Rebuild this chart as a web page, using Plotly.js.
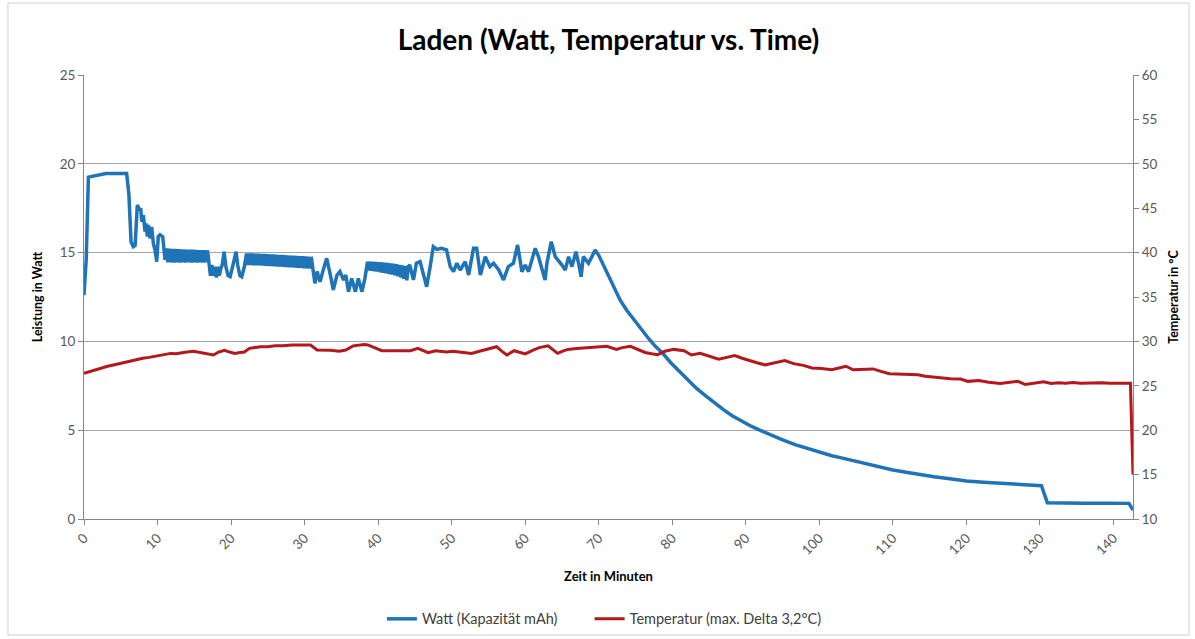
<!DOCTYPE html>
<html>
<head>
<meta charset="utf-8">
<script src="https://cdn.plot.ly/plotly-3.0.1.min.js"></script>
<style>
  html, body { margin: 0; padding: 0; background: #ffffff; }
  #chart { width: 1195px; height: 639px; }
</style>
</head>
<body>
<div id="chart"></div>
<script>
// ---- Data ----
const chartTitle = "Laden (Watt, Temperatur vs. Time)";
const xTitle = "Zeit in Minuten";
const yLeftTitle = "Leistung in Watt";
const yRightTitle = "Temperatur in °C";
const seriesNames = ["Watt (Kapazität mAh)", "Temperatur (max. Delta 3,2°C)"];
const xTickValues = [0, 10, 20, 30, 40, 50, 60, 70, 80, 90, 100, 110, 120, 130, 140];

// Watt series: time (minutes)
const wattTime = [
  0, 0.3, 0.6, 1.3, 2.0, 3.0, 4.5, 5.8, 6.1, 6.4, 6.7, 6.95, 7.25, 7.53, 7.71, 7.85, 8.07, 8.3, 8.44, 8.62,
  8.75, 8.98, 9.2, 9.43, 9.66, 9.89, 10.1, 10.34, 10.7, 11.02, 11.25,
  11.4, 11.6, 11.8, 12.0, 12.2, 12.4, 12.6, 12.8, 13.0, 13.2, 13.4, 13.6, 13.8, 14.0,
  14.2, 14.4, 14.6, 14.8, 15.0, 15.2, 15.4, 15.6, 15.8, 16.0, 16.2, 16.4, 16.6, 16.8,
  17.0, 17.2, 17.4, 17.6, 17.8, 18.0, 18.2, 18.4, 18.6, 18.8, 19.05, 19.3, 19.6, 19.87, 20.2, 20.5, 20.68,
  20.9, 21.2, 21.45, 21.8, 22.1,
  22.3, 22.5, 22.7, 22.9, 23.1, 23.3, 23.5, 23.7, 23.9, 24.1, 24.3, 24.5, 24.7, 24.9, 25.1, 25.3, 25.5,
  25.7, 25.9, 26.1, 26.3, 26.5, 26.7, 26.9, 27.1, 27.3, 27.5, 27.7, 27.9, 28.1, 28.3, 28.5, 28.7, 28.9,
  29.1, 29.3, 29.5, 29.7, 29.9, 30.1, 30.3, 30.5, 30.7, 30.9,
  31.2, 31.4, 31.7, 32.1, 32.4, 33.0, 33.5, 33.9, 34.4, 34.8, 35.3, 35.6, 35.97, 36.4, 36.9, 37.3, 37.8,
  38.2, 38.55,
  38.7, 38.9, 39.1, 39.3, 39.5, 39.7, 39.9, 40.1, 40.3, 40.5, 40.7, 40.9, 41.1, 41.3, 41.5, 41.7, 41.9,
  42.1, 42.3, 42.5, 42.7, 42.9, 43.1, 43.3, 43.5, 43.7, 43.9, 44.1,
  44.3, 44.8, 45.2, 45.7, 46.1, 46.6, 47.07, 47.5, 47.98, 48.6, 49.3, 49.8, 50.25, 50.7, 51.16, 51.84,
  52.3, 52.97, 53.4, 53.9, 54.56, 55.2, 55.7, 56.4, 57.05, 57.7, 58.4, 58.96, 59.55, 60.0, 60.45, 61.36,
  61.8, 62.7, 62.95, 63.54, 64.08, 64.5, 65.0, 65.44, 65.9, 66.35, 66.9, 67.26, 67.6, 67.9, 68.6, 69.07,
  69.5, 70.0, 71.0, 72.0, 72.9, 73.8, 74.8, 75.8, 76.8, 77.7, 78.7, 79.8, 81.0, 82.1, 83.3, 84.5, 85.7,
  87.0, 88.2, 89.4, 90.6, 91.9, 93.5, 95.0, 96.8, 98.5, 100.0, 101.7, 103.0, 104.2, 105.5, 106.8, 108.3,
  109.2, 110.0, 112.0, 114.0, 115.6, 118.0, 120.0, 122.3, 124.6, 126.5, 128.5, 130.2, 131.0, 133.0,
  136.0, 139.0, 142.1, 142.65
];
// Watt series: power (W)
const wattValues = [
  12.6, 14.6, 19.25, 19.3, 19.4, 19.45, 19.45, 19.45, 18.3, 15.6, 15.33, 15.4, 17.68, 17.4, 17.5, 16.74, 17.1, 16.18, 16.64, 15.9,
  16.56, 15.8, 16.45, 15.52, 15.15, 14.49, 15.9, 16.0, 15.9, 14.6, 15.24,
  14.45, 15.22, 14.45, 15.2, 14.44, 15.2, 14.45, 15.19, 14.44, 15.18, 14.45, 15.18, 14.44, 15.17,
  14.45, 15.16, 14.44, 15.16, 14.45, 15.15, 14.44, 15.14, 14.45, 15.14, 14.44, 15.13, 14.45, 15.12,
  14.4, 13.7, 14.3, 13.7, 14.2, 13.6, 14.2, 13.7, 14.1, 14.3, 15.05, 14.2, 13.7, 13.64, 14.2, 14.9, 15.05,
  14.3, 13.7, 13.64, 14.2, 14.95,
  14.3, 14.95, 14.3, 14.95, 14.29, 14.94, 14.29, 14.93, 14.28, 14.92, 14.27, 14.92, 14.26, 14.91, 14.25, 14.9, 14.24,
  14.89, 14.23, 14.88, 14.22, 14.87, 14.21, 14.86, 14.2, 14.85, 14.19, 14.84, 14.18, 14.83, 14.17, 14.82, 14.16, 14.81,
  14.15, 14.8, 14.14, 14.79, 14.12, 14.78, 14.11, 14.77, 14.1, 14.76,
  14.02, 13.27, 13.93, 13.36, 13.83, 14.68, 13.74, 12.9, 13.74, 13.93, 13.46, 13.74, 12.8, 13.55, 12.8, 13.55, 12.8,
  13.55, 14.49,
  14.0, 14.49, 13.98, 14.48, 13.95, 14.47, 13.93, 14.46, 13.9, 14.44, 13.87, 14.43, 13.84, 14.41, 13.8, 14.39, 13.76,
  14.37, 13.72, 14.34, 13.67, 14.31, 13.6, 14.28, 13.52, 14.25, 13.44, 14.22,
  14.3, 13.46, 14.4, 14.49, 13.83, 13.08, 14.2, 15.33, 15.18, 15.24, 15.15, 14.21, 13.93, 14.4, 14.02, 14.49,
  13.74, 15.24, 15.24, 13.74, 14.77, 14.21, 14.4, 14.02, 13.46, 14.21, 14.4, 15.43, 13.93, 14.3, 13.93, 15.24,
  14.77, 13.46, 14.4, 15.62, 14.77, 14.58, 14.3, 14.02, 14.77, 14.21, 15.05, 14.4, 13.64, 14.77, 14.4, 14.77,
  15.15, 14.85, 13.95, 13.1, 12.33, 11.75, 11.2, 10.65, 10.15, 9.72, 9.33, 8.8, 8.3, 7.83, 7.35, 6.95, 6.55,
  6.14, 5.8, 5.5, 5.25, 5.0, 4.7, 4.45, 4.17, 3.95, 3.79, 3.56, 3.44, 3.32, 3.2, 3.1, 2.95,
  2.83, 2.76, 2.62, 2.48, 2.38, 2.25, 2.14, 2.07, 2.01, 1.96, 1.91, 1.87, 0.92, 0.9,
  0.89, 0.89, 0.88, 0.5
];

// Temperature series: time (minutes)
const tempTime = [
  0, 0.8, 1.56, 2.5, 3.2, 4.0, 4.8, 5.6, 6.43, 7.2, 8.0, 8.86, 9.8, 10.8, 11.8, 12.5, 13.2, 14.0, 14.9, 15.5,
  16.2, 16.9, 17.6, 18.3, 19.1, 19.8, 20.5, 21.2, 21.8, 22.5, 23.2, 24.0, 25.0, 26.0, 27.0, 28.3, 29.5, 30.8,
  31.7, 32.5, 33.5, 34.7, 35.6, 36.6, 37.4, 38.1, 38.6, 39.4, 40.5, 41.5, 42.5, 43.5, 44.4, 45.4, 46.1, 46.8,
  47.8, 48.5, 49.3, 50.2, 51.2, 52.0, 52.7, 53.4, 54.1, 55.1, 56.1, 56.8, 57.5, 58.5, 59.2, 60.0, 61.0, 61.9,
  63.1, 63.8, 64.4, 65.1, 65.8, 67.0, 68.3, 69.5, 71.1, 72.4, 73.2, 74.3, 75.3, 76.3, 77.2, 78.0, 79.0, 80.2,
  81.6, 82.6, 83.8, 85.0, 86.3, 87.4, 88.5, 89.5, 90.4, 91.5, 92.6, 94.0, 95.3, 96.5, 97.8, 99.0, 100.3, 101.7,
  103.6, 104.6, 106.0, 107.3, 108.5, 109.5, 111.5, 113.4, 114.4, 116.3, 117.8, 119.2, 120.2, 121.7, 123.0,
  124.6, 125.8, 127.0, 128.0, 129.2, 130.5, 131.5, 132.5, 133.5, 134.5, 135.5, 136.5, 137.5, 138.5, 139.5,
  140.5, 141.5, 142.3, 142.65
];
// Temperature series: °C
const tempValues = [
  26.4, 26.6, 26.86, 27.05, 27.2, 27.35, 27.5, 27.65, 27.84, 27.95, 28.1, 28.2, 28.35, 28.47, 28.65, 28.6, 28.73, 28.8, 28.9, 28.8,
  28.75, 28.6, 28.47, 28.8, 29.0, 28.8, 28.65, 28.75, 28.8, 29.22, 29.3, 29.4, 29.4, 29.5, 29.5, 29.6, 29.6, 29.6,
  29.03, 29.05, 29.0, 28.9, 29.03, 29.5, 29.6, 29.65, 29.6, 29.3, 28.95, 28.95, 28.95, 29.0, 28.95, 29.22, 29.0, 28.73,
  28.95, 28.85, 28.8, 28.9, 28.8, 28.75, 28.65, 28.8, 28.95, 29.2, 29.4, 28.9, 28.47, 28.95, 28.8, 28.6, 29.0, 29.3,
  29.5, 29.0, 28.65, 28.9, 29.1, 29.2, 29.3, 29.35, 29.45, 29.1, 29.3, 29.45, 29.1, 28.75, 28.6, 28.5, 28.9, 29.1,
  28.95, 28.47, 28.65, 28.3, 28.0, 28.2, 28.4, 28.1, 27.84, 27.6, 27.35, 27.6, 27.84, 27.5, 27.3, 27.0, 26.95, 26.8,
  27.2, 26.8, 26.85, 26.9, 26.6, 26.35, 26.3, 26.25, 26.07, 25.88, 25.8, 25.77, 25.5, 25.6, 25.4,
  25.25, 25.4, 25.5, 25.14, 25.3, 25.44, 25.25, 25.35, 25.3, 25.38, 25.3, 25.33, 25.3, 25.35, 25.3,
  25.33, 25.3, 25.3, 15.0
];

// ---- Drawing ----
const FONT = "Lato, 'Open Sans', 'Liberation Sans', sans-serif";
const AXIS_GRAY = "#868686";
const TICK_COLOR = "#595959";
const LEGEND_FONT = { family: FONT, size: 14.5, color: "#404040" };

const traces = [
  {
    x: wattTime, y: wattValues, name: seriesNames[0], type: "scatter", mode: "lines",
    line: { color: "#1f73b7", width: 3.5 }, yaxis: "y", legend: "legend"
  },
  {
    x: tempTime, y: tempValues, name: seriesNames[1], type: "scatter", mode: "lines",
    line: { color: "#b2181c", width: 3 }, yaxis: "y2", legend: "legend2"
  }
];

const layout = {
  width: 1195, height: 639,
  paper_bgcolor: "#ffffff", plot_bgcolor: "#ffffff",
  margin: { l: 84, r: 62, t: 75, b: 120, autoexpand: false },
  font: { family: FONT, color: TICK_COLOR, size: 13 },
  title: {
    text: chartTitle, x: 0.5, xref: "paper", xanchor: "center",
    y: 1 - 40 / 639, yref: "container", yanchor: "middle",
    font: { family: FONT, size: 28, color: "#000000", weight: "bold" }
  },
  showlegend: true,
  legend: {
    orientation: "h", x: 0.284, xanchor: "left", y: -0.225, yanchor: "middle",
    font: LEGEND_FONT, bgcolor: "rgba(0,0,0,0)"
  },
  legend2: {
    orientation: "h", x: 0.482, xanchor: "left", y: -0.225, yanchor: "middle",
    font: LEGEND_FONT, bgcolor: "rgba(0,0,0,0)"
  },
  xaxis: {
    range: [0, 142.65], tickvals: xTickValues, tickangle: -45, automargin: false,
    ticks: "outside", ticklen: 5, tickcolor: AXIS_GRAY, tickfont: { size: 13.5, color: TICK_COLOR },
    showline: true, linecolor: AXIS_GRAY, linewidth: 1, showgrid: false, zeroline: false,
    title: { text: xTitle, standoff: 14, font: { family: FONT, size: 13, color: "#000000", weight: "bold" } }
  },
  yaxis: {
    range: [0, 25], dtick: 5, tick0: 0, automargin: false,
    ticks: "outside", ticklen: 5, tickcolor: AXIS_GRAY, tickfont: { size: 13.5, color: TICK_COLOR },
    showline: true, linecolor: AXIS_GRAY, linewidth: 1,
    showgrid: true, gridcolor: "#a6a6a6", gridwidth: 1, zeroline: false,
    title: { text: yLeftTitle, standoff: 14, font: { family: FONT, size: 12.5, color: "#000000", weight: "bold" } }
  },
  yaxis2: {
    range: [10, 60], dtick: 5, tick0: 10, overlaying: "y", side: "right", automargin: false,
    ticks: "outside", ticklen: 5, tickcolor: AXIS_GRAY, tickfont: { size: 13.5, color: TICK_COLOR },
    showline: true, linecolor: AXIS_GRAY, linewidth: 1, showgrid: false, zeroline: false,
    title: { text: yRightTitle, standoff: 12, font: { family: FONT, size: 12.5, color: "#000000", weight: "bold" } }
  },
  shapes: [
    {
      type: "rect", xref: "paper", yref: "paper",
      x0: -0.0725, x1: 1.0535, y0: -0.2613, y1: 1.162,
      line: { color: "#d0d0d0", width: 1 }, fillcolor: "rgba(0,0,0,0)", layer: "below"
    }
  ],
  hovermode: false
};

Plotly.newPlot("chart", traces, layout, { displayModeBar: false, staticPlot: true });
</script>
</body>
</html>
